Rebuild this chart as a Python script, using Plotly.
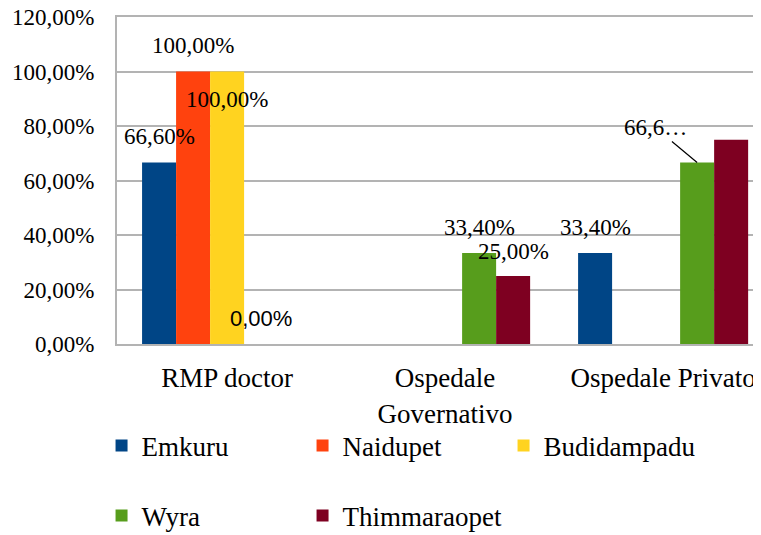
import plotly.graph_objects as go

categories = ["RMP doctor", "Ospedale<br>Governativo", "Ospedale Privato"]
series_names = ["Emkuru", "Naidupet", "Budidampadu", "Wyra", "Thimmaraopet"]
emkuru = [66.6, None, 33.4]
naidupet = [100.0, None, None]
budidampadu = [100.0, None, None]
wyra = [0.0, 33.4, 66.6]
thimmaraopet = [None, 25.0, 75.0]
series_values = [emkuru, naidupet, budidampadu, wyra, thimmaraopet]
colors = ["#004586", "#ff420e", "#ffd320", "#579d1c", "#7e0021"]
y_ticks = [0, 20, 40, 60, 80, 100, 120]

SERIF = "Liberation Serif, Times New Roman, serif"
SANS = "Liberation Sans, Arial, sans-serif"
BARGAP = 0.22


def pct(v):
    return f"{v:.2f}".replace(".", ",") + "%"


fig = go.Figure()
for i, (name, vals) in enumerate(zip(series_names, series_values)):
    fig.add_trace(
        go.Bar(
            x=list(range(len(categories))),
            y=vals,
            name=name,
            marker=dict(color=colors[i], line=dict(width=0)),
            legend="legend" if i < 3 else "legend2",
        )
    )

# data labels: (series index, category index) -> placement/style
label_style = {
    (0, 0): dict(yshift=26),
    (1, 0): dict(yshift=26),
    (2, 0): dict(yshift=-28),
    (3, 0): dict(yshift=26, family=SANS, size=22),
    (3, 1): dict(yshift=25),
    (4, 1): dict(yshift=24),
    (0, 2): dict(yshift=25),
    (3, 2): dict(arrow=(-42, -35), short=True),
}

bar_w = (1 - BARGAP) / len(series_names)
for (si, ci), st in label_style.items():
    v = series_values[si][ci]
    xpos = ci + (si - (len(series_names) - 1) / 2) * bar_w
    text = pct(v)
    if st.get("short"):
        text = text[:4] + "\u2026"
    font = dict(family=st.get("family", SERIF), size=st.get("size", 23), color="black")
    if "arrow" in st:
        ax, ay = st["arrow"]
        fig.add_annotation(
            x=xpos, y=v, text=text, showarrow=True, arrowhead=0, arrowwidth=1.2,
            arrowcolor="black", ax=ax, ay=ay, font=font,
        )
    else:
        fig.add_annotation(
            x=xpos, y=v, text=text, showarrow=False, yanchor="middle",
            yshift=st["yshift"], font=font,
        )

# the page body adds an 8px margin, so the figure is 8px smaller each way
fig.update_layout(
    width=753,
    height=527,
    margin=dict(l=109, r=0, t=9, b=191, autoexpand=False),
    paper_bgcolor="white",
    plot_bgcolor="white",
    barmode="group",
    bargap=BARGAP,
    bargroupgap=0,
    separators=", ",
    font=dict(family=SERIF, size=22, color="black"),
    xaxis=dict(
        tickmode="array",
        tickvals=list(range(len(categories))),
        ticktext=categories,
        range=[-0.505, 2.449],
        showgrid=False,
        showline=True,
        mirror=True,  # top line at 120%
        linecolor="#b3b3b3",
        linewidth=2,
        ticks="",
        tickfont=dict(size=27),
        ticklabelstandoff=9,
        ticklabeloverflow="allow",
    ),
    yaxis=dict(
        range=[0, 120],
        tickvals=y_ticks,
        ticktext=[pct(t) for t in y_ticks],
        showgrid=True,
        gridcolor="#b3b3b3",
        gridwidth=2,
        showline=True,
        linecolor="#b3b3b3",
        linewidth=2,
        zeroline=False,
        ticks="",
        tickfont=dict(size=23),
        ticklabelstandoff=16,
        ticklabeloverflow="allow",
    ),
    legend=dict(
        orientation="h", x=-0.024, xanchor="left", y=-0.312, yanchor="middle",
        entrywidth=156, font=dict(size=27), bgcolor="rgba(0,0,0,0)",
    ),
    legend2=dict(
        orientation="h", x=-0.024, xanchor="left", y=-0.526, yanchor="middle",
        entrywidth=156, font=dict(size=27), bgcolor="rgba(0,0,0,0)",
    ),
)

fig.write_html("out.html")
